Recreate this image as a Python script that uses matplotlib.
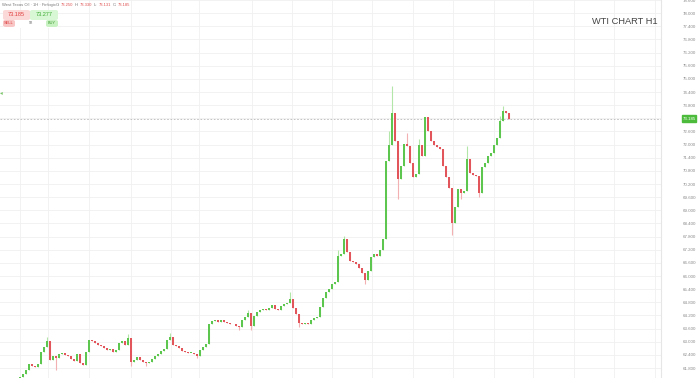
import matplotlib
matplotlib.use("Agg")
import matplotlib.pyplot as plt
from matplotlib.patches import FancyBboxPatch, Rectangle
import numpy as np

# WTI hourly closes (one value per candle)
closes = [
    61.16, 61.39, 61.53, 61.71, 61.98, 61.89, 61.85, 61.98, 62.53, 62.76,
    63.03, 62.16, 62.35, 62.26, 62.44, 62.48, 62.39, 62.35, 62.21, 62.12,
    62.44, 62.03, 61.94, 62.53, 63.07, 63.03, 62.94, 62.85, 62.80, 62.71,
    62.62, 62.66, 62.53, 62.62, 62.94, 63.03, 62.85, 63.17, 62.07, 62.16,
    62.30, 62.16, 62.07, 62.03, 62.07, 62.21, 62.35, 62.44, 62.57, 62.66,
    63.07, 63.21, 62.85, 62.80, 62.71, 62.57, 62.53, 62.48, 62.48, 62.44,
    62.35, 62.62, 62.76, 62.89, 63.80, 63.94, 63.98, 63.89, 63.98, 63.89,
    63.85, 63.80, 63.80, 63.71, 63.67, 63.98, 64.12, 64.30, 63.71, 64.17,
    64.35, 64.44, 64.48, 64.44, 64.53, 64.67, 64.48, 64.44, 64.62, 64.71,
    64.76, 64.94, 64.53, 64.26, 63.85, 63.80, 63.85, 63.80, 63.98, 64.08,
    64.12, 64.58, 64.99, 65.26, 65.39, 65.62, 65.71, 66.90, 66.99, 67.67,
    67.08, 66.67, 66.62, 66.53, 66.35, 66.12, 65.80, 66.21, 66.85, 66.99,
    66.90, 67.17, 67.71, 71.26, 71.99, 73.45, 72.17, 70.44, 71.04, 72.04,
    71.95, 71.17, 70.54, 70.67, 71.99, 71.49, 73.27, 72.63, 72.17, 71.99,
    71.90, 71.81, 71.04, 70.54, 70.04, 68.44, 69.17, 69.99, 69.81, 69.90,
    71.35, 70.72, 70.63, 70.58, 69.81, 70.99, 71.17, 71.49, 71.63, 71.99,
    72.31, 73.08, 73.54, 73.45, 73.17,
]
first_open = 61.00

# notable wicks (candle index -> price)
wick_high = {10: 63.21, 37: 63.35, 51: 63.39, 77: 64.44, 91: 65.26, 107: 67.17,
             109: 67.81, 124: 72.63, 125: 74.68, 130: 72.54, 134: 72.27,
             150: 71.95, 161: 73.31, 162: 73.77}
wick_low = {13: 61.71, 38: 61.89, 43: 61.89, 60: 62.26, 74: 63.53, 78: 63.53,
            94: 63.67, 116: 65.62, 127: 69.53, 145: 67.85, 148: 69.53, 154: 69.62}

price_ticks = np.round(np.arange(61.8, 78.61, 0.6), 1)
day_lines = [1, 10.3, 24, 38, 51.3, 60.7, 78.3, 91.7, 105, 118.3, 132, 145.3,
             159, 172, 185.7, 199, 212.7]

sell_px, buy_px, spread = "73.185", "73.277", "92"
last_price = 73.185
header = "West Texas Oil · 1H · Finlogix"
ohlc_txt = [("O:", "73.250"), ("H:", "73.330"), ("L:", "73.131"), ("C:", "73.185")]

GREEN, RED = "#5cc64f", "#e2555a"
GREEN_W, RED_W = "#b2e6a8", "#f2b0b2"

plt.rcParams["font.family"] = ["Liberation Sans", "DejaVu Sans"]
fig = plt.figure(figsize=(6.98, 3.78), dpi=100)
ax = fig.add_axes([0, 0, 661 / 698, 1])

closes = np.array(closes)
opens = np.concatenate([[first_open], closes[:-1]])
idx = np.arange(len(closes))
up = closes >= opens
highs = np.maximum(opens, closes)
lows = np.minimum(opens, closes)
for k, v in wick_high.items():
    highs[k] = v
for k, v in wick_low.items():
    lows[k] = v

ax.vlines(idx[up], lows[up], highs[up], color=GREEN_W, lw=0.8, zorder=2)
ax.vlines(idx[~up], lows[~up], highs[~up], color=RED_W, lw=0.8, zorder=2)
body = np.maximum(np.abs(closes - opens), 0.03)
ax.bar(idx, body, bottom=np.minimum(opens, closes), width=0.7,
       color=np.where(up, GREEN, RED), linewidth=0, zorder=3)

for t in price_ticks:
    ax.axhline(t, color="#f0f0f0", lw=0.6, zorder=0)
for d in day_lines:
    ax.axvline(d, color="#f0f0f0", lw=0.6, zorder=0)
ax.axhline(last_price, color="#b8b8b8", lw=0.6, ls=(0, (2, 2)), zorder=1)

ax.set_xlim(-17 / 3, (661 - 17) / 3)
ax.set_ylim(61.345, 78.542)
ax.set_xticks([])
ax.yaxis.tick_right()
ax.set_yticks(price_ticks)
ax.set_yticklabels([f"{t:.3f}" for t in price_ticks])
ax.tick_params(axis="y", length=0, pad=16, labelsize=3.2, labelcolor="#8a8a8a")
for s in ["top", "left", "bottom"]:
    ax.spines[s].set_visible(False)
ax.spines["right"].set_color("#e6e6e6")
ax.spines["right"].set_linewidth(0.8)

# price tag on the axis
fig.patches.append(Rectangle((682 / 698, 1 - 122 / 378), 14 / 698, 7 / 378,
                             transform=fig.transFigure, color="#4cbb3c", zorder=5))
fig.text(689 / 698, 1 - 118.5 / 378, f"{last_price:.3f}", fontsize=3.2, color="white",
         ha="center", va="center", zorder=6)

# title
fig.text(625 / 698, 1 - 21 / 378, "WTI CHART H1", fontsize=6.7, color="#444444",
         ha="center", va="center")

# header line
fig.text(2 / 698, 1 - 5 / 378, header, fontsize=3.0, color="#777777", va="center")
x0 = 56
for lab, val in ohlc_txt:
    fig.text(x0 / 698, 1 - 5 / 378, lab, fontsize=3.0, color="#777777", va="center")
    fig.text((x0 + 4.5) / 698, 1 - 5 / 378, val, fontsize=3.0, color="#e05050", va="center")
    x0 += 19

# sell / buy widget
def box(x, y, w, h, fc):
    fig.patches.append(FancyBboxPatch((x / 698, 1 - (y + h) / 378), w / 698, h / 378,
                                      boxstyle="round,pad=0,rounding_size=0.004",
                                      transform=fig.transFigure, fc=fc, ec="none", zorder=5))

box(3, 10, 27, 10, "#fbd9d9")
box(30, 10, 28, 10, "#d8f7d4")
box(3, 20, 55, 8, "#ffffff")
box(3, 20, 12, 7, "#f9c6c6")
box(46, 20, 12, 7, "#c9f2c2")
fig.text(16.5 / 698, 1 - 15 / 378, sell_px, fontsize=4, color="#e03a3a", ha="center", va="center", zorder=6)
fig.text(44 / 698, 1 - 15 / 378, buy_px, fontsize=4, color="#3aaa30", ha="center", va="center", zorder=6)
fig.text(9 / 698, 1 - 23.5 / 378, "SELL", fontsize=2.8, color="#d83535", ha="center", va="center", zorder=6)
fig.text(52 / 698, 1 - 23.5 / 378, "BUY", fontsize=2.8, color="#3a9a30", ha="center", va="center", zorder=6)
fig.text(30.5 / 698, 1 - 23.5 / 378, spread, fontsize=2.8, color="#666666", ha="center", va="center", zorder=6)

# small marker on the left edge
fig.text(0, 1 - 93 / 378, "◂", fontsize=4, color="#7cc66a", ha="left", va="center")

fig.savefig("out.png", dpi=100)
